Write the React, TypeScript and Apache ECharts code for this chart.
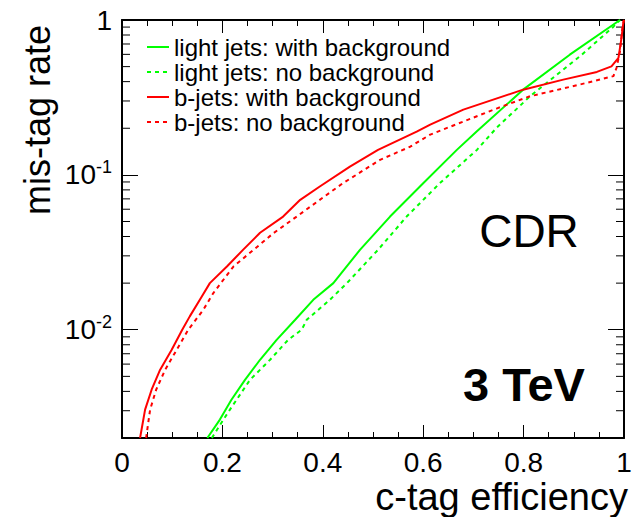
import React, { useEffect, useRef } from "react";
import * as echarts from "echarts";

// ---- data ----
const seriesNames = [
  "light jets: with background",
  "light jets: no background",
  "b-jets: with background",
  "b-jets: no background",
];

const lightWithX = [0.17, 0.195, 0.218, 0.245, 0.275, 0.308, 0.345, 0.381, 0.421, 0.474, 0.534, 0.6, 0.667, 0.707, 0.799, 0.892, 0.992];
const lightWithY = [0.002, 0.00263, 0.00353, 0.00475, 0.0064, 0.00861, 0.0116, 0.0156, 0.02, 0.0328, 0.0538, 0.0883, 0.145, 0.191, 0.355, 0.597, 1.0];

const lightNoX = [0.179, 0.202, 0.215, 0.255, 0.295, 0.331, 0.358, 0.368, 0.414, 0.448, 0.51, 0.567, 0.633, 0.707, 0.746, 0.813, 0.916, 0.979, 0.992];
const lightNoY = [0.002, 0.00263, 0.00305, 0.00475, 0.0064, 0.00861, 0.01, 0.0116, 0.0156, 0.02, 0.0328, 0.0538, 0.0883, 0.145, 0.201, 0.322, 0.597, 0.906, 1.0];

const bWithX = [0.036, 0.046, 0.059, 0.076, 0.099, 0.12, 0.135, 0.159, 0.175, 0.209, 0.241, 0.275, 0.321, 0.355, 0.394, 0.454, 0.51, 0.587, 0.614, 0.68, 0.799, 0.879, 0.946, 0.975, 0.989, 0.995, 0.999, 1.0];
const bWithY = [0.002, 0.00305, 0.0041, 0.00552, 0.00743, 0.01, 0.0122, 0.0164, 0.02, 0.0256, 0.0328, 0.0423, 0.0538, 0.069, 0.0841, 0.113, 0.145, 0.19, 0.211, 0.264, 0.355, 0.412, 0.462, 0.502, 0.569, 0.766, 0.98, 1.0];

const bNoX = [0.048, 0.056, 0.068, 0.086, 0.132, 0.162, 0.182, 0.222, 0.262, 0.302, 0.348, 0.394, 0.44, 0.514, 0.574, 0.614, 0.68, 0.746, 0.813, 0.912, 0.979, 0.985, 0.992, 0.997, 1.0];
const bNoY = [0.002, 0.00305, 0.0041, 0.00552, 0.01, 0.01346, 0.01726, 0.0256, 0.0328, 0.0421, 0.0538, 0.069, 0.0883, 0.125, 0.152, 0.182, 0.221, 0.268, 0.322, 0.383, 0.434, 0.49, 0.628, 0.902, 1.0];

const yMinorTicks = [
  0.003, 0.004, 0.005, 0.006, 0.007, 0.008, 0.009,
  0.02, 0.03, 0.04, 0.05, 0.06, 0.07, 0.08, 0.09,
  0.2, 0.3, 0.4, 0.5, 0.6, 0.7, 0.8, 0.9,
];

const FONT = "Liberation Sans";

const pairs = (xs: number[], ys: number[]) => xs.map((x, i) => [x, ys[i]]);

export default function App() {
  const ref = useRef<HTMLDivElement>(null);
  useEffect(() => {
    if (!ref.current) return;
    const chart = echarts.init(ref.current, null, { renderer: "svg" });

    const xAxisBase = {
      type: "value",
      min: 0,
      max: 1,
      interval: 0.2,
      gridIndex: 0,
      axisLine: { show: true, onZero: false, lineStyle: { color: "#000", width: 2 } },
      axisTick: { show: true, inside: true, length: 13, lineStyle: { color: "#000", width: 1 } },
      minorTick: { show: true, splitNumber: 4, length: 6, lineStyle: { color: "#000", width: 1 } },
      splitLine: { show: false },
      minorSplitLine: { show: false },
    };
    const yAxisBase = {
      type: "log",
      logBase: 10,
      min: 0.002,
      max: 1,
      gridIndex: 0,
      axisLine: { show: true, onZero: false, lineStyle: { color: "#000", width: 2 } },
      axisTick: { show: true, inside: true, length: 16, lineStyle: { color: "#000", width: 1 } },
      minorTick: { show: false },
      splitLine: { show: false },
      minorSplitLine: { show: false },
    };

    const lineSeries = (name: string, data: number[][], color: string, dashed: boolean) => ({
      name,
      type: "line",
      data,
      showSymbol: false,
      symbol: "none",
      clip: true,
      color,
      itemStyle: { color },
      lineStyle: { color, width: 2, type: dashed ? [4, 4] : "solid" },
    });

    chart.setOption({
      animation: false,
      backgroundColor: "#fff",
      grid: { left: 122, right: 19, top: 20, bottom: 79, containLabel: false },
      xAxis: [
        {
          ...xAxisBase,
          position: "bottom",
          axisLabel: { show: true, color: "#000", fontFamily: FONT, fontSize: 28, lineHeight: 28, margin: 10 },
        },
        { ...xAxisBase, position: "top", axisLabel: { show: false } },
      ],
      yAxis: [
        {
          ...yAxisBase,
          position: "left",
          axisLabel: {
            show: true,
            margin: 10,
            color: "#000",
            fontFamily: FONT,
            formatter: (v: number) => {
              if (Math.abs(v - 1) < 1e-9) return "{b|1}";
              if (Math.abs(v - 0.1) < 1e-9) return "{b|10}{s|-1}";
              if (Math.abs(v - 0.01) < 1e-9) return "{b|10}{s|-2}";
              return "";
            },
            rich: {
              b: { fontFamily: FONT, fontSize: 28, lineHeight: 34, color: "#000" },
              s: { fontFamily: FONT, fontSize: 18, lineHeight: 18, color: "#000", verticalAlign: "top" },
            },
          },
        },
        { ...yAxisBase, position: "right", axisLabel: { show: false } },
      ],
      legend: {
        show: true,
        orient: "vertical",
        left: 141,
        top: 30,
        itemWidth: 22,
        itemHeight: 4,
        itemGap: 1,
        selectedMode: false,
        data: seriesNames,
        itemStyle: { opacity: 0 },
        textStyle: { color: "#000", fontFamily: FONT, fontSize: 24, lineHeight: 24 },
      },
      series: [
        lineSeries(seriesNames[0], pairs(lightWithX, lightWithY), "#00ff00", false),
        lineSeries(seriesNames[1], pairs(lightNoX, lightNoY), "#00ff00", true),
        lineSeries(seriesNames[2], pairs(bWithX, bWithY), "#ff0000", false),
        lineSeries(seriesNames[3], pairs(bNoX, bNoY), "#ff0000", true),
        {
          name: "minor ticks",
          type: "custom",
          silent: true,
          clip: false,
          data: yMinorTicks.map((v) => [0, v]),
          renderItem: (_params: any, api: any) => {
            const v = api.value(1);
            const l = api.coord([0, v]);
            const r = api.coord([1, v]);
            return {
              type: "group",
              children: [
                { type: "line", shape: { x1: l[0], y1: l[1], x2: l[0] + 8, y2: l[1] }, style: { stroke: "#000", lineWidth: 1 } },
                { type: "line", shape: { x1: r[0] - 8, y1: r[1], x2: r[0], y2: r[1] }, style: { stroke: "#000", lineWidth: 1 } },
              ],
            };
          },
        },
      ],
      graphic: [
        {
          type: "text",
          x: 37,
          y: 120,
          rotation: Math.PI / 2,
          style: { text: "mis-tag rate", fontFamily: FONT, fontSize: 36, fill: "#000", align: "center", verticalAlign: "middle" },
        },
        {
          type: "text",
          x: 628,
          y: 497,
          style: { text: "c-tag efficiency", fontFamily: FONT, fontSize: 38, fill: "#000", align: "right", verticalAlign: "middle" },
        },
        {
          type: "text",
          x: 529,
          y: 231,
          style: { text: "CDR", fontFamily: FONT, fontSize: 46, fill: "#000", align: "center", verticalAlign: "middle" },
        },
        {
          type: "text",
          x: 524,
          y: 384,
          style: { text: "3 TeV", fontFamily: FONT, fontSize: 47, fontWeight: "bold", fill: "#000", align: "center", verticalAlign: "middle" },
        },
      ],
    });
    return () => chart.dispose();
  }, []);
  return <div ref={ref} style={{ width: 643, height: 517, position: "absolute", left: 0, top: 0 }} />;
}
